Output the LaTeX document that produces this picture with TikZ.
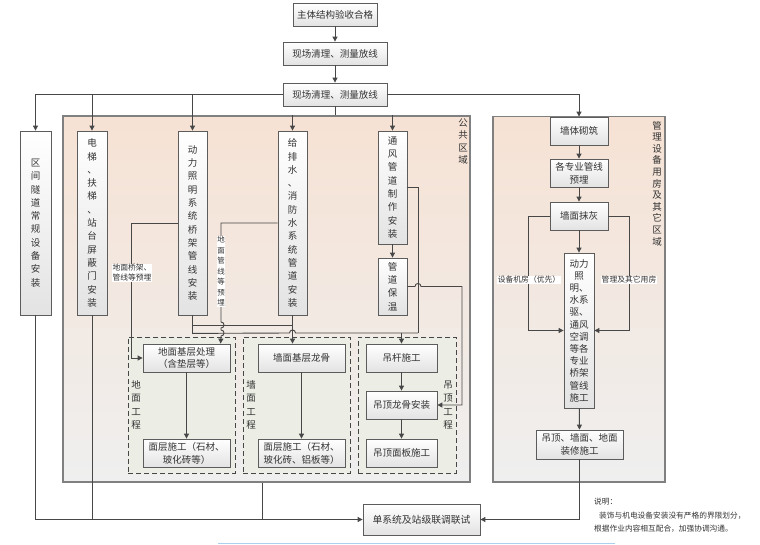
\documentclass[tikz,border=0pt]{standalone}
\usepackage{fontspec}
\setmainfont{Noto Sans CJK SC}
\usetikzlibrary{arrows.meta,shadows,calc}
\definecolor{lnc}{HTML}{474747}
\definecolor{bdc}{HTML}{5C5C5C}
\definecolor{peach}{HTML}{F6E2D4}
\definecolor{lgray}{HTML}{EFEFEF}
\definecolor{grp}{HTML}{ECEEE5}
\definecolor{regb}{HTML}{808080}
\definecolor{txt}{HTML}{333333}
\definecolor{blueline}{HTML}{AAD2F0}
\tikzset{
 box/.style={draw=bdc, line width=0.8pt, top color=white, bottom color=gray!22, inner sep=1pt, align=center,
   font=\fontsize{9.5}{12.8}\selectfont, text=txt,
   drop shadow={shadow xshift=0.9pt, shadow yshift=-0.9pt, opacity=0.3}},
 vbox/.style={box, font=\fontsize{9.5}{13.3}\selectfont},
 region/.style={draw=regb, line width=1.2pt, top color=peach, bottom color=lgray, inner sep=0pt},
 grpbox/.style={draw=gray!55!black, dash pattern=on 5pt off 3pt, line width=1pt, fill=grp, inner sep=0pt},
 conn/.style={draw=lnc, line width=0.9pt},
 arr/.style={conn, -{Triangle[length=5pt,width=5pt]}},
 lbl/.style={fill=white, inner sep=0.6pt, font=\fontsize{7.8}{10}\selectfont, text=txt, align=center},
 rlbl/.style={inner sep=0pt, align=center, text=txt},
}
\begin{document}
\begin{tikzpicture}[x=1pt,y=-1pt]
\useasboundingbox (0,0) rectangle (760,544);

% regions
\node[region, minimum width=407pt, minimum height=366pt] (pub) at (266.5,299) {};
\node[region, minimum width=172pt, minimum height=365.5pt] (mgr) at (579,299.25) {};
\node[rlbl, font=\fontsize{9.5}{12.3}\selectfont] (publ) at (463,141.5) {公\\共\\区\\域};
\node[rlbl, font=\fontsize{9.5}{11.6}\selectfont] (mgrl) at (657,183.5) {管\\理\\设\\备\\用\\房\\及\\其\\它\\区\\域};

% groups
\node[grpbox, minimum width=107pt, minimum height=136pt] (gd) at (181.5,405) {};
\node[grpbox, minimum width=107pt, minimum height=136pt] (gq) at (296.5,405) {};
\node[grpbox, minimum width=98pt, minimum height=136pt] (gdd) at (407,405) {};
\node[rlbl, font=\fontsize{9.5}{13.3}\selectfont] (gdl) at (136,405) {地\\面\\工\\程};
\node[rlbl, font=\fontsize{9.5}{13.3}\selectfont] (gql) at (251,405) {墙\\面\\工\\程};
\node[rlbl, font=\fontsize{9.5}{13.3}\selectfont] (gddl) at (448,405) {吊\\顶\\工\\程};

% top boxes
\node[box, minimum width=84pt, minimum height=23pt] (n1) at (335,14.5) {主体结构验收合格};
\node[box, minimum width=104pt, minimum height=23pt] (n2) at (335,53.5) {现场清理、测量放线};
\node[box, minimum width=104pt, minimum height=23pt] (n3) at (335,94.5) {现场清理、测量放线};

% vertical boxes
\node[vbox, minimum width=31pt, minimum height=184pt] (qj) at (35.5,223) {区\\间\\隧\\道\\常\\规\\设\\备\\安\\装};
\node[vbox, minimum width=30pt, minimum height=184pt] (dt) at (92,223) {电\\梯\\、\\扶\\梯\\、\\站\\台\\屏\\蔽\\门\\安\\装};
\node[vbox, minimum width=29pt, minimum height=184pt] (dl) at (192.5,223) {动\\力\\照\\明\\系\\统\\桥\\架\\管\\线\\安\\装};
\node[vbox, minimum width=29pt, minimum height=184pt] (gps) at (292.5,223) {给\\排\\水\\、\\消\\防\\水\\系\\统\\管\\道\\安\\装};
\node[vbox, minimum width=29pt, minimum height=113pt] (tf) at (392.5,187.5) {通\\风\\管\\道\\制\\作\\安\\装};
\node[vbox, minimum width=29pt, minimum height=57pt] (bw) at (392.5,286.5) {管\\道\\保\\温};

% group boxes
\node[box, minimum width=87pt, minimum height=28pt] (dj) at (186.5,358) {地面基层处理\\（含垫层等）};
\node[box, minimum width=87pt, minimum height=28pt] (dm1) at (186.5,453) {面层施工（石材、\\玻化砖等）};
\node[box, minimum width=87pt, minimum height=28pt] (qj2) at (301.5,358) {墙面基层龙骨};
\node[box, minimum width=87pt, minimum height=28pt] (qm2) at (301.5,453) {面层施工（石材、\\玻化砖、铝板等）};
\node[box, minimum width=71pt, minimum height=28pt] (dg) at (401.5,358) {吊杆施工};
\node[box, minimum width=71pt, minimum height=28pt] (dl2) at (401.5,405) {吊顶龙骨安装};
\node[box, minimum width=71pt, minimum height=28pt] (dmb) at (401.5,453) {吊顶面板施工};

% right side boxes
\node[box, minimum width=58pt, minimum height=28pt] (qt) at (579,131) {墙体砌筑};
\node[box, minimum width=58pt, minimum height=28pt] (gzy) at (579,173) {各专业管线\\预埋};
\node[box, minimum width=58pt, minimum height=28pt] (qmh) at (579,216) {墙面抹灰};
\node[vbox, font=\fontsize{9.5}{12.2}\selectfont, minimum width=30pt, minimum height=155pt] (dlz) at (579,330.5) {动力\\照\\明、\\水系\\驱、\\通风\\空调\\等各\\专业\\桥架\\管线\\施工};
\node[box, minimum width=87pt, minimum height=29pt] (dzx) at (579.5,444.5) {吊顶、墙面、地面\\装修施工};

% bottom box
\node[box, font=\fontsize{9.8}{12}\selectfont, minimum width=117pt, minimum height=31pt] (dsx) at (421.5,519.5) {单系统及站级联调联试};

% top connectors
\draw[arr] (n1) -- (n2);
\draw[arr] (n2) -- (n3);
\draw[arr] (n3.west) -| (qj.north);
\draw[arr] (dt.north |- n3.west) -- (dt.north);
\draw[arr] (dl.north |- n3.west) -- (dl.north);
\draw[conn] (n3.south) -- (n3.south |- pub.north);
\draw[arr] (gps.north |- pub.north) -- (gps.north);
\draw[arr] (tf.north |- pub.north) -- (tf.north);
\draw[arr] (n3.east) -| (qt.north);

% public area connectors
\draw[arr] (tf) -- (bw);
\draw[arr] (dl.west) -- ++(-46,0) |- (dj.west);
\draw[arr] (gps.west) -- (221,223) -- (221,322) .. controls (225,322) and (225,328) .. (221,328) -- (221,330) .. controls (225,330) and (225,336) .. (221,336) -- ($(dj.north west)+(78,0)$);
\draw[conn] (dl.south) -- ++(0,10) -| (gps.south);
\draw[arr] (gps.south) -- (gps.south |- qj2.north);
\draw[conn] (dl.south) -- ++(0,18) -- (289.5,333) .. controls (289.5,329) and (295.5,329) .. (295.5,333) -- (418,333);
\draw[conn] (tf.east) -- (418,187.5) -- (418,333);
\draw[arr] ($(dg.north)+(0,-11)$) -- (dg.north);
\draw[arr] (bw.east) -- (415,286.5) .. controls (415,282.5) and (421,282.5) .. (421,286.5) -- (462,286.5) |- (dl2.east);
\draw[arr] (dj) -- (dm1);
\draw[arr] (qj2) -- (qm2);
\draw[arr] (dg) -- (dl2);
\draw[arr] (dl2) -- (dmb);
\node[lbl] (lb1) at (132,273) {地面桥架、\\管线等预埋};
\node[lbl, font=\fontsize{7.5}{10.5}\selectfont] (lb2) at (221,271.5) {地\\面\\管\\线\\等\\预\\埋};

% right connectors
\draw[arr] (qt) -- (gzy);
\draw[arr] (gzy) -- (qmh);
\draw[arr] (qmh) -- (dlz);
\draw[arr] (dlz) -- (dzx);
\draw[arr] (qmh.west) -- ++(-21,0) |- (dlz.west);
\draw[arr] (qmh.east) -- ++(21,0) |- (dlz.east);
\node[lbl] (lb3) at (529,280) {设备机房（优先）};
\node[lbl] (lb4) at (629,280) {管理及其它用房};

% bottom connectors
\draw[arr] (qj.south) |- (dsx.west);
\draw[conn] (dt.south) -- (dt.south |- dsx.west);
\draw[conn] ($(pub.south west)+(200,0)$) -- ++(0,37.5);
\draw[arr] (dzx.south) |- (dsx.east);

% note
\node[anchor=west, inner sep=0pt, text=txt, font=\fontsize{7.7}{10}\selectfont] (nt1) at (594,502) {说明：};
\node[anchor=west, inner sep=0pt, text=txt, font=\fontsize{7.7}{10}\selectfont] (nt2) at (599,515.5) {装饰与机电设备安装没有严格的界限划分，};
\node[anchor=west, inner sep=0pt, text=txt, font=\fontsize{7.7}{10}\selectfont] (nt3) at (594,529) {根据作业内容相互配合，加强协调沟通。};

\draw[blueline, line width=1pt] (218,543) -- (615,543);
\end{tikzpicture}
\end{document}
